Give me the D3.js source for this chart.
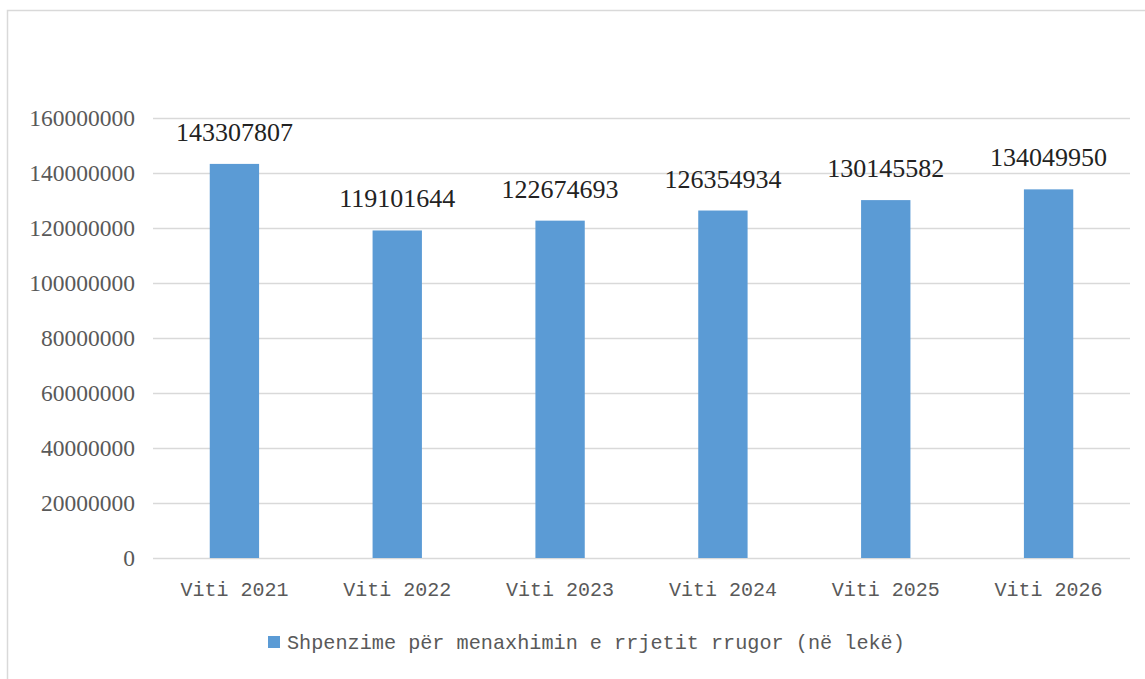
<!DOCTYPE html>
<html>
<head>
<meta charset="utf-8">
<script src="https://cdn.jsdelivr.net/npm/d3@7"></script>
<style>
  body { margin: 0; background: #fff; }
  svg { display: block; }
</style>
</head>
<body>
<svg id="chart"></svg>
<script>
// data
const years = ['Viti 2021', 'Viti 2022', 'Viti 2023', 'Viti 2024', 'Viti 2025', 'Viti 2026']
const values = [143307807, 119101644, 122674693, 126354934, 130145582, 134049950]
const yTicks = [0, 20000000, 40000000, 60000000, 80000000, 100000000, 120000000, 140000000, 160000000]
const seriesName = 'Shpenzime për menaxhimin e rrjetit rrugor (në lekë)'

const width = 1145
const height = 679
const margin = { left: 153, right: 15, top: 118, bottom: 121 }
const visWidth = width - margin.left - margin.right
const visHeight = height - margin.top - margin.bottom

const svg = d3.select('svg#chart').attr('width', width).attr('height', height)

// chart frame
svg.append('rect')
  .attr('x', 7.5).attr('y', 10.5)
  .attr('width', width + 10).attr('height', height + 10)
  .attr('fill', 'none').attr('stroke', '#d9d9d9').attr('stroke-width', 1.5)

const g = svg.append('g').attr('transform', 'translate(' + margin.left + ',' + margin.top + ')')

const xScale = d3.scaleBand().domain(years).range([0, visWidth])
const yScale = d3.scaleLinear().domain([0, 160000000]).range([visHeight, 0])
const barW = xScale.bandwidth() / 3.3

// gridlines
g.selectAll('line.grid').data(yTicks).enter().append('line')
  .attr('class', 'grid')
  .attr('x1', 0).attr('x2', visWidth)
  .attr('y1', d => Math.round(yScale(d)) + 0.5)
  .attr('y2', d => Math.round(yScale(d)) + 0.5)
  .attr('stroke', '#d9d9d9').attr('stroke-width', 1.5)

// y tick labels
g.selectAll('text.ytick').data(yTicks).enter().append('text')
  .attr('class', 'ytick')
  .attr('x', -18)
  .attr('y', d => yScale(d))
  .attr('dy', '0.35em')
  .attr('text-anchor', 'end')
  .attr('font-family', 'Liberation Serif, serif')
  .attr('font-size', 23.5)
  .attr('fill', '#595959')
  .text(d => d)

// bars
g.selectAll('rect.bar').data(values).enter().append('rect')
  .attr('class', 'bar')
  .attr('x', (d, i) => xScale(years[i]) + xScale.bandwidth() / 2 - barW / 2)
  .attr('y', d => yScale(d))
  .attr('width', barW)
  .attr('height', d => visHeight - yScale(d))
  .attr('fill', '#5b9bd5')

// value labels
g.selectAll('text.val').data(values).enter().append('text')
  .attr('class', 'val')
  .attr('x', (d, i) => xScale(years[i]) + xScale.bandwidth() / 2)
  .attr('y', d => yScale(d) - 23)
  .attr('text-anchor', 'middle')
  .attr('font-family', 'Liberation Serif, serif')
  .attr('font-size', 26)
  .attr('fill', '#222')
  .text(d => d)

// x labels
g.selectAll('text.xlab').data(years).enter().append('text')
  .attr('class', 'xlab')
  .attr('x', d => xScale(d) + xScale.bandwidth() / 2)
  .attr('y', visHeight + 38)
  .attr('text-anchor', 'middle')
  .attr('font-family', 'Liberation Mono, monospace')
  .attr('font-size', 20)
  .attr('fill', '#595959')
  .text(d => d)

// legend
const legend = svg.append('g').attr('transform', 'translate(268,636)')
legend.append('rect').attr('x', 0).attr('y', 0).attr('width', 12).attr('height', 12).attr('fill', '#5b9bd5')
legend.append('text')
  .attr('x', 19).attr('y', 6).attr('dy', '0.35em')
  .attr('font-family', 'Liberation Mono, monospace')
  .attr('font-size', 20.2)
  .attr('fill', '#595959')
  .text(seriesName)
</script>
</body>
</html>
